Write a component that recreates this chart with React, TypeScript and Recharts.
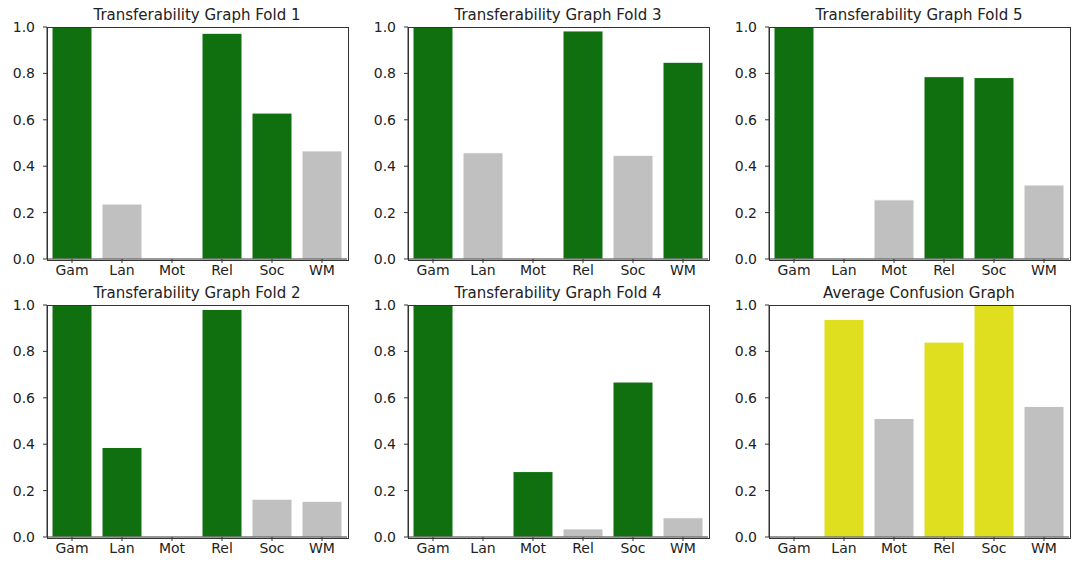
import { Bar, BarChart, Cell, XAxis, YAxis } from "recharts";

const categories = ["Gam", "Lan", "Mot", "Rel", "Soc", "WM"];
const yTicks = [0, 0.2, 0.4, 0.6, 0.8, 1.0];

const fold1 = [1.0, 0.237, 0, 0.973, 0.629, 0.466];
const fold1Hit = [true, false, false, true, true, false];
const fold2 = [1.0, 0.386, 0, 0.981, 0.163, 0.154];
const fold2Hit = [true, true, false, true, false, false];
const fold3 = [1.0, 0.458, 0, 0.983, 0.447, 0.848];
const fold3Hit = [true, false, false, true, false, true];
const fold4 = [1.0, 0, 0.282, 0.035, 0.668, 0.083];
const fold4Hit = [true, false, true, false, true, false];
const fold5 = [1.0, 0, 0.255, 0.786, 0.782, 0.319];
const fold5Hit = [true, false, false, true, true, false];
const average = [0, 0.938, 0.511, 0.84, 1.0, 0.563];
const averageHit = [false, true, false, true, true, false];

const GREEN = "#107010";
const YELLOW = "#dfdf1f";
const GREY = "#c0c0c0";
const INK = "#222";
const SPINE = "#333";
const FONT = "'DejaVu Sans', sans-serif";

const PLOT_W = 300;
const PLOT_H = 232;
const Y_AXIS_W = 45;
const TOP_PAD = 10;
const X_AXIS_H = 30;

type PanelProps = {
  title: string;
  values: number[];
  hits: boolean[];
  hitColor: string;
  left: number;
  top: number;
};

function Panel({ title, values, hits, hitColor, left, top }: PanelProps) {
  const data = categories.map((cat, i) => ({ cat, value: values[i] }));
  const tick = { fill: INK, fontSize: 14, fontFamily: FONT };
  return (
    <div style={{ position: "absolute", left: left - Y_AXIS_W, top: top - TOP_PAD }}>
      <div
        style={{
          position: "absolute",
          left: Y_AXIS_W,
          width: PLOT_W,
          top: TOP_PAD - 21,
          textAlign: "center",
          fontFamily: FONT,
          fontSize: 15,
          color: INK,
          lineHeight: "18px",
          whiteSpace: "nowrap",
        }}
      >
        {title}
      </div>
      <BarChart
        width={Y_AXIS_W + PLOT_W + 2}
        height={TOP_PAD + PLOT_H + X_AXIS_H}
        data={data}
        margin={{ top: TOP_PAD, right: 2, left: 0, bottom: 0 }}
        barCategoryGap="10%"
      >
        <XAxis
          dataKey="cat"
          height={X_AXIS_H}
          tick={tick}
          tickSize={4}
          tickMargin={2}
          stroke={SPINE}
          interval={0}
        />
        <YAxis
          domain={[0, 1]}
          ticks={yTicks}
          width={Y_AXIS_W}
          tick={tick}
          tickSize={4}
          tickMargin={8}
          stroke={SPINE}
          tickFormatter={(v: number) => v.toFixed(1)}
          allowDataOverflow
        />
        <Bar dataKey="value" isAnimationActive={false} stroke="#fff" strokeWidth={1}>
          {data.map((d, i) => (
            <Cell key={d.cat} fill={hits[i] ? hitColor : GREY} />
          ))}
        </Bar>
      </BarChart>
      <div
        style={{
          position: "absolute",
          left: Y_AXIS_W - 0.5,
          top: TOP_PAD - 0.5,
          width: PLOT_W,
          height: PLOT_H,
          border: `1px solid ${SPINE}`,
          pointerEvents: "none",
        }}
      />
    </div>
  );
}

export default function App() {
  return (
    <div style={{ position: "absolute", left: 0, top: 0, width: 1072, height: 566, background: "#fff", overflow: "hidden" }}>
      <Panel title="Transferability Graph Fold 1" values={fold1} hits={fold1Hit} hitColor={GREEN} left={47} top={27} />
      <Panel title="Transferability Graph Fold 3" values={fold3} hits={fold3Hit} hitColor={GREEN} left={408} top={27} />
      <Panel title="Transferability Graph Fold 5" values={fold5} hits={fold5Hit} hitColor={GREEN} left={769} top={27} />
      <Panel title="Transferability Graph Fold 2" values={fold2} hits={fold2Hit} hitColor={GREEN} left={47} top={305} />
      <Panel title="Transferability Graph Fold 4" values={fold4} hits={fold4Hit} hitColor={GREEN} left={408} top={305} />
      <Panel title="Average Confusion Graph" values={average} hits={averageHit} hitColor={YELLOW} left={769} top={305} />
    </div>
  );
}
